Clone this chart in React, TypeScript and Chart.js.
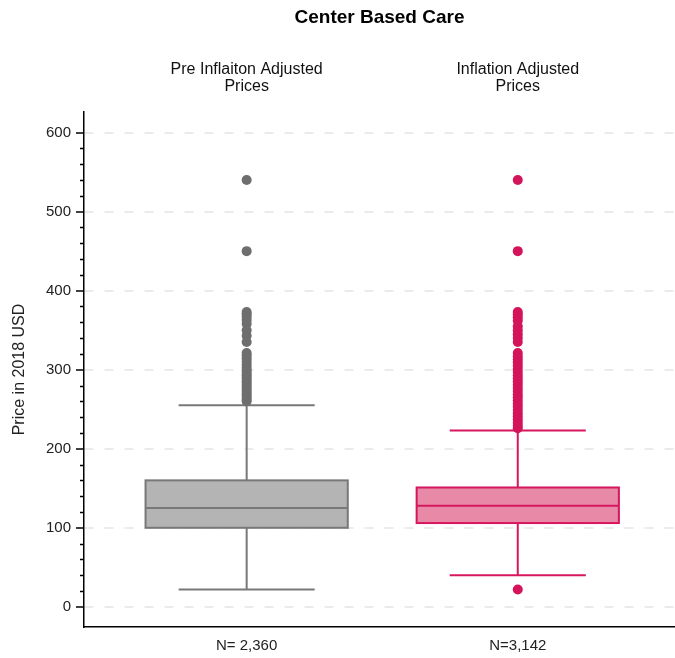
import React, { useEffect, useRef } from 'react';
import { Chart, registerables } from 'chart.js';

Chart.register(...registerables);

// ---------- data ----------
const positions = [0, 1];
const topLabels = [
  ['Pre Inflaiton Adjusted', 'Prices'],
  ['Inflation Adjusted', 'Prices'],
];
const bottomLabels = ['N= 2,360', 'N=3,142'];
const lowerWhisker = [22, 40];
const q1 = [100, 106];
const median = [125, 128];
const q3 = [160, 151];
const upperWhisker = [255, 223];
const outliersPre = [
  540, 450, 373, 370, 367, 363, 358, 350, 343, 335, 321, 318, 314, 310, 306,
  302, 299, 296, 293, 290, 287, 284, 281, 278, 275, 272, 269, 266, 263, 260,
];
const outliersAdj = [
  540, 450, 373, 370, 366, 362, 355, 350, 345, 340, 335, 321, 317, 313, 309,
  305, 301, 297, 293, 289, 285, 281, 277, 273, 269, 265, 261, 257, 253, 249,
  245, 241, 237, 233, 229, 226, 22,
];
const yTicks = [0, 20, 40, 60, 80, 100, 120, 140, 160, 180, 200, 220, 240, 260, 280, 300, 320, 340, 360, 380, 400, 420, 440, 460, 480, 500, 520, 540, 560, 580, 600];

// ---------- styles ----------
const FONT = "'Liberation Sans', Arial, sans-serif";
const boxFill = ['#b4b4b4', '#e889a8'];
const boxStroke = ['#787878', '#d6175e'];
const pointColor = ['#6e6e6e', '#d4145a'];
const BOX_HALF = 0.373;
const CAP_HALF = 0.251;
const X_MIN = -0.6;
const X_MAX = 1.58;

const boxPlugin = {
  id: 'boxes',
  beforeDatasetsDraw(chart: any) {
    const { ctx, scales } = chart;
    const x = scales.x;
    const y = scales.y;
    ctx.save();
    positions.forEach((p, i) => {
      const cx = x.getPixelForValue(p);
      const bl = x.getPixelForValue(p - BOX_HALF);
      const br = x.getPixelForValue(p + BOX_HALF);
      const cl = x.getPixelForValue(p - CAP_HALF);
      const cr = x.getPixelForValue(p + CAP_HALF);
      const yq1 = y.getPixelForValue(q1[i]);
      const yq3 = y.getPixelForValue(q3[i]);
      const ymed = y.getPixelForValue(median[i]);
      const ylo = y.getPixelForValue(lowerWhisker[i]);
      const yhi = y.getPixelForValue(upperWhisker[i]);
      ctx.strokeStyle = boxStroke[i];
      ctx.lineWidth = 2;
      ctx.beginPath();
      ctx.moveTo(cx, yq3);
      ctx.lineTo(cx, yhi);
      ctx.moveTo(cl, yhi);
      ctx.lineTo(cr, yhi);
      ctx.moveTo(cx, yq1);
      ctx.lineTo(cx, ylo);
      ctx.moveTo(cl, ylo);
      ctx.lineTo(cr, ylo);
      ctx.stroke();
      ctx.fillStyle = boxFill[i];
      ctx.fillRect(bl, yq3, br - bl, yq1 - yq3);
      ctx.strokeRect(bl, yq3, br - bl, yq1 - yq3);
      ctx.beginPath();
      ctx.moveTo(bl, ymed);
      ctx.lineTo(br, ymed);
      ctx.stroke();
    });
    ctx.restore();
  },
  afterDraw(chart: any) {
    const { ctx, scales } = chart;
    const y = scales.y;
    const left = chart.chartArea.left;
    ctx.save();
    ctx.strokeStyle = '#000';
    ctx.lineWidth = 1.5;
    ctx.beginPath();
    yTicks.forEach((v) => {
      if (v % 100 !== 0) {
        const py = Math.round(y.getPixelForValue(v)) + 0.5;
        ctx.moveTo(left - 4, py);
        ctx.lineTo(left, py);
      }
    });
    ctx.stroke();
    ctx.restore();
  },
};

export default function App() {
  const ref = useRef<HTMLCanvasElement | null>(null);
  useEffect(() => {
    document.body.style.margin = '0';
    const canvas = ref.current;
    if (!canvas) return;
    const chart = new Chart(canvas, {
      type: 'scatter',
      data: {
        datasets: [
          {
            data: outliersPre.map((v) => ({ x: positions[0], y: v })),
            pointRadius: 5,
            pointBackgroundColor: pointColor[0],
            pointBorderWidth: 0,
            xAxisID: 'x',
            yAxisID: 'y',
          },
          {
            data: outliersAdj.map((v) => ({ x: positions[1], y: v })),
            pointRadius: 5,
            pointBackgroundColor: pointColor[1],
            pointBorderWidth: 0,
            xAxisID: 'x',
            yAxisID: 'y',
          },
        ],
      },
      options: {
        animation: false,
        responsive: true,
        maintainAspectRatio: false,
        layout: { padding: 0, autoPadding: false },
        plugins: {
          legend: { display: false },
          tooltip: { enabled: false },
          title: {
            display: true,
            text: 'Center Based Care',
            fullSize: false,
            color: '#000',
            font: { family: FONT, size: 19, weight: 'bold', lineHeight: 1.2 },
            padding: { top: 6, bottom: 0 },
          },
        },
        scales: {
          x: {
            type: 'linear',
            position: 'bottom',
            min: X_MIN,
            max: X_MAX,
            afterBuildTicks: (s: any) => {
              s.ticks = positions.map((v) => ({ value: v }));
            },
            afterFit: (s: any) => {
              s.height = 31;
              s.paddingLeft = 0;
              s.paddingRight = 0;
            },
            ticks: {
              callback: (v: any) => bottomLabels[positions.indexOf(Number(v))] ?? '',
              font: { family: FONT, size: 15, lineHeight: 1.2 },
              color: '#222',
              padding: 10,
              maxRotation: 0,
              autoSkip: false,
            },
            grid: { display: false, drawTicks: false },
            border: { display: true, color: '#000', width: 1.5 },
          },
          xTop: {
            type: 'linear',
            position: 'top',
            min: X_MIN,
            max: X_MAX,
            afterBuildTicks: (s: any) => {
              s.ticks = positions.map((v) => ({ value: v }));
            },
            afterFit: (s: any) => {
              s.height = 112 - 28.8;
              s.paddingLeft = 0;
              s.paddingRight = 0;
            },
            ticks: {
              callback: (v: any) => topLabels[positions.indexOf(Number(v))] ?? '',
              font: { family: FONT, size: 16, lineHeight: 1.06 },
              color: '#111',
              padding: 16.5,
              maxRotation: 0,
              autoSkip: false,
            },
            grid: { display: false, drawTicks: false },
            border: { display: false },
          },
          y: {
            type: 'linear',
            position: 'left',
            min: -25.5,
            max: 626,
            afterBuildTicks: (s: any) => {
              s.ticks = yTicks.map((v) => ({ value: v }));
            },
            afterFit: (s: any) => {
              s.width = 84;
            },
            ticks: {
              callback: (v: any) => (Number(v) % 100 === 0 ? String(v) : ''),
              font: { family: FONT, size: 15 },
              color: '#222',
              padding: 5,
              autoSkip: false,
            },
            grid: {
              color: (c: any) => (c.tick && c.tick.value % 100 === 0 ? '#ebebeb' : 'rgba(0,0,0,0)'),
              lineWidth: 2,
              tickColor: (c: any) => (c.tick && c.tick.value % 100 === 0 ? '#000' : 'rgba(0,0,0,0)'),
              tickLength: 8,
              tickWidth: 1.5,
              drawTicks: true,
            },
            border: { display: true, color: '#000', width: 1.5, dash: [9, 11] },
            title: {
              display: true,
              text: 'Price in 2018 USD',
              color: '#222',
              font: { family: FONT, size: 16, lineHeight: 1.2 },
              padding: { top: 10, bottom: 0 },
            },
          },
        },
      },
      plugins: [boxPlugin],
    } as any);
    return () => chart.destroy();
  }, []);
  return (
    <div style={{ width: 675, height: 658, position: 'relative' }}>
      <canvas ref={ref} />
    </div>
  );
}
